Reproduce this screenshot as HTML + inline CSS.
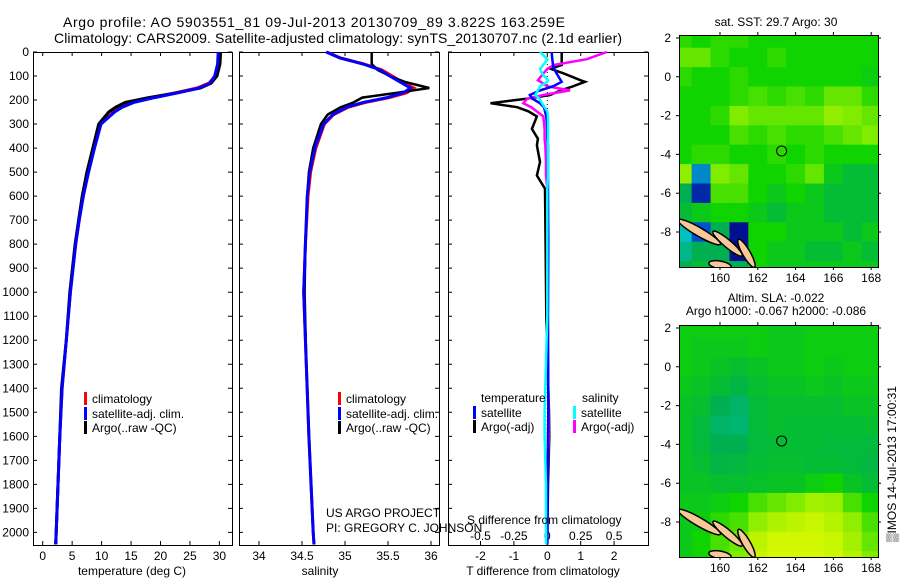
<!DOCTYPE html>
<html><head><meta charset="utf-8"><style>
html,body{margin:0;padding:0;background:#fff;width:900px;height:580px;overflow:hidden}
svg{display:block;font-family:"Liberation Sans",sans-serif}
text{fill:#000}
</style></head><body>
<svg id="fig" width="900" height="580" viewBox="0 0 900 580">
<text x="63" y="27" font-size="14" textLength="502">Argo profile: AO 5903551_81 09-Jul-2013 20130709_89 3.822S 163.259E</text>
<text x="54" y="43" font-size="14" textLength="568">Climatology: CARS2009. Satellite-adjusted climatology: synTS_20130707.nc (2.1d earlier)</text>
<g id="g1"></g>
<g id="g2"></g>
<g id="g3"></g>
<g id="m1"></g>
<g id="m2"></g>
<text x="776" y="26" font-size="12" text-anchor="middle">sat. SST: 29.7 Argo: 30</text>
<text x="776" y="302" font-size="12" text-anchor="middle">Altim. SLA: -0.022</text>
<text x="776" y="315" font-size="12" text-anchor="middle">Argo h1000: -0.067 h2000: -0.086</text>
<text transform="translate(896,464) rotate(-90)" font-size="12" text-anchor="middle">▒IMOS 14-Jul-2013 17:00:31</text>
</svg>
<script>
// ---- data ----
const depthsT=[0,50,100,130,150,170,190,210,230,250,300,400,500,600,700,800,1000,1200,1400,1600,1800,2000,2050];
const tempClim=[29.9,29.8,29.3,28.2,26.2,22.5,18.5,15.2,13.4,12.0,9.8,8.7,7.7,6.9,6.2,5.6,4.7,4.0,3.3,2.9,2.6,2.3,2.2];
const tempSat=[29.8,29.7,29.2,28.4,26.6,23.0,19.0,15.5,13.5,12.2,9.9,8.8,7.8,6.9,6.2,5.6,4.7,4.0,3.3,2.9,2.6,2.3,2.2];
const tempArgo=[30.2,30.1,29.6,28.6,26.8,22.8,18.0,14.0,12.4,11.2,9.5,8.5,7.5,6.7,6.1,5.5,4.6,4.0,3.2,2.9,2.6,2.3,2.2];
const depthsS=[0,25,50,75,100,125,150,170,190,210,230,260,300,400,500,600,800,1000,1300,1600,2000,2050];
const salClim=[34.79,34.95,35.22,35.43,35.55,35.66,35.80,35.72,35.52,35.24,35.04,34.87,34.76,34.66,34.60,34.57,34.54,34.52,34.55,34.58,34.63,34.64];
const salSat=[34.78,34.94,35.21,35.41,35.52,35.64,35.76,35.68,35.49,35.21,35.02,34.86,34.75,34.65,34.59,34.56,34.54,34.52,34.55,34.58,34.63,34.64];
const salArgo=[35.31,35.31,35.31,35.38,35.52,35.70,35.98,35.60,35.20,35.10,34.95,34.80,34.72,34.63,34.58,34.56,34.54,34.53,34.55,34.58,34.63,34.64];
const depthsD=[0,30,54,70,90,118,124,143,160,179,194,213,230,247,268,320,361,389,458,514,569,800,1100,1500,1600,1800,2050];
const dTSat=[0.13,0.15,0.17,0.2,0.28,0.4,0.43,0.17,-0.22,-0.52,-0.45,-0.22,-0.1,-0.07,-0.03,0,0,0.02,0.02,0.02,0.02,0.03,0.02,0.03,0.02,0.01,0];
const dTArgo=[0.43,0.43,0.43,0.1,0.5,1.0,1.13,0.77,0.4,0.08,-0.6,-1.7,-0.9,-0.57,-0.31,-0.46,-0.28,-0.31,-0.22,-0.31,-0.07,-0.05,-0.03,0.05,0.06,0.02,0];
const dSSat=[-0.055,0,-0.03,-0.055,-0.04,0.005,0.0,-0.055,-0.07,-0.09,-0.06,-0.04,-0.02,0,0.005,0.005,0.005,0.005,0.005,0.005,0,0,0,-0.02,-0.02,-0.01,-0.01];
const dSArgo=[0.445,0.295,0.05,0.0,-0.03,-0.07,-0.05,0.0,0.17,-0.03,-0.15,-0.18,-0.12,-0.08,-0.03,-0.02,-0.02,-0.015,-0.01,-0.01,0,0,0,0.01,0.01,0,0];
const depthTicks=[0,100,200,300,400,500,600,700,800,900,1000,1100,1200,1300,1400,1500,1600,1700,1800,1900,2000];
const tempTicks=[0,5,10,15,20,25,30];
const salTicks=[34,34.5,35,35.5,36];
const salTickLabels=["34","34.5","35","35.5","36"];
const dTTicks=[-2,-1,0,1,2];
const dSTicks=[-0.5,-0.25,0,0.25,0.5];
const dSTickLabels=["-0.5","-0.25","0","0.25","0.5"];
// map grids: rows lat 2..-10, cols lon 158..168
const mapLats=[2,1,0,-1,-2,-3,-4,-5,-6,-7,-8,-9,-10];
const mapLons=[158,159,160,161,162,163,164,165,166,167,168];
const sstGrid=[
[.5,.45,.5,.5,.45,.45,.45,.45,.45,.45,.45],
[.6,.6,.5,.45,.45,.5,.45,.45,.45,.45,.45],
[.5,.45,.45,.5,.45,.45,.45,.45,.45,.45,.42],
[.45,.45,.45,.5,.55,.5,.55,.5,.6,.6,.5],
[.45,.45,.5,.65,.6,.6,.6,.6,.7,.65,.6],
[.45,.45,.45,.55,.5,.55,.5,.5,.55,.6,.65],
[.45,.5,.5,.45,.45,.5,.45,.5,.45,.45,.45],
[.7,.15,.65,.6,.45,.45,.5,.6,.4,.35,.35],
[.3,.05,.55,.55,.45,.4,.45,.4,.35,.35,.35],
[.35,.4,.45,.45,.4,.35,.4,.4,.35,.35,.35],
[.2,.1,.3,.02,.45,.45,.4,.4,.4,.35,.4],
[.25,.3,.3,.02,.45,.4,.4,.35,.35,.4,.35],
[.3,.35,.35,.3,.45,.4,.4,.4,.4,.4,.4]];
const slaGrid=[
[.42,.42,.42,.42,.42,.4,.4,.42,.42,.42,.42],
[.42,.4,.4,.4,.42,.4,.4,.42,.42,.42,.42],
[.42,.4,.38,.36,.38,.4,.4,.42,.4,.42,.42],
[.4,.38,.35,.32,.36,.38,.38,.4,.38,.4,.4],
[.38,.36,.3,.28,.34,.36,.36,.36,.36,.38,.38],
[.38,.34,.28,.27,.34,.36,.35,.35,.35,.35,.36],
[.38,.34,.3,.3,.34,.35,.35,.35,.34,.34,.34],
[.38,.36,.32,.33,.35,.36,.36,.35,.35,.34,.33],
[.38,.38,.36,.36,.37,.38,.38,.42,.45,.38,.35],
[.4,.4,.42,.45,.55,.6,.65,.75,.72,.55,.45],
[.4,.42,.5,.55,.7,.78,.82,.85,.8,.7,.55],
[.4,.45,.55,.62,.82,.88,.88,.88,.85,.75,.6],
[.4,.45,.55,.65,.85,.9,.9,.9,.88,.8,.65]];
const argoLon=163.259, argoLat=-3.822;

const NS='http://www.w3.org/2000/svg';
function mk(parent,tag,attrs,txt){const e=document.createElementNS(NS,tag);for(const k in attrs)e.setAttribute(k,attrs[k]);if(txt!==undefined)e.textContent=txt;parent.appendChild(e);return e;}
const Y0=52,YB=545;
const yD=d=>Y0+d*0.2402;

function frame(g,x0,x1,name){
  const r=mk(g,'rect',{x:x0+.5,y:Y0+.5,width:x1-x0,height:YB-Y0,fill:'none',stroke:'#000','stroke-width':1});
  
  
  depthTicks.forEach(d=>{
    const t=mk(g,'path',{d:`M${x0} ${yD(d)}h4M${x1} ${yD(d)}h-4`,stroke:'#000','stroke-width':1});
    
    
  });
}
function xticks(g,vals,labels,fx,ly,top){
  vals.forEach((v,i)=>{
    const x=fx(v);
    const t=mk(g,'path',{d:`M${x} ${YB}v-4`+(top?`M${x} ${Y0}v4`:''),stroke:'#000','stroke-width':1});
    
    
    const l=mk(g,'text',{x:x,y:ly,'font-size':12,'text-anchor':'middle'},labels[i]);
    
    
  });
}
function line(g,xs,ds,fx,color,w,name,dash){
  const pts=xs.map((v,i)=>fx(v).toFixed(1)+','+yD(ds[i]).toFixed(1)).join(' ');
  const p=mk(g,'polyline',{points:pts,fill:'none',stroke:color,'stroke-width':w,'stroke-linejoin':'miter'});
  if(dash)p.setAttribute('stroke-dasharray',dash);
  
  
}
function legendItem(g,x,y,color,label){
  const r=mk(g,'rect',{x:x,y:y-6,width:3,height:13,fill:color});
  
  
  const t=mk(g,'text',{x:x+8,y:y+5,'font-size':12},label);
  
  
}

// Panel 1: temperature
const g1=document.getElementById('g1');
const fT=v=>42.7+v*5.89;
frame(g1,33,232,'temperature');
depthTicks.forEach(d=>{const l=mk(g1,'text',{x:29,y:yD(d)+4,'font-size':12,'text-anchor':'end'},String(d));
  });
xticks(g1,tempTicks,tempTicks.map(String),fT,560,true);
line(g1,tempClim,depthsT,fT,'#ff0000',3,'temperature-climatology-line');
line(g1,tempArgo,depthsT,fT,'#000',3,'temperature-argo-line');
line(g1,tempSat,depthsT,fT,'#0000ff',3,'temperature-satellite-line');
legendItem(g1,84,398,'#ff0000','climatology');
legendItem(g1,84,413,'#0000ff','satellite-adj. clim.');
legendItem(g1,84,427,'#000','Argo(..raw -QC)');
{const t=mk(g1,'text',{x:132,y:575,'font-size':12,'text-anchor':'middle'},'temperature (deg C)');}

// Panel 2: salinity
const g2=document.getElementById('g2');
const fS=v=>345+(v-35)*86;
frame(g2,239,439,'salinity');
xticks(g2,salTicks,salTickLabels,fS,560,true);
line(g2,salClim,depthsS,fS,'#ff0000',3,'salinity-climatology-line');
line(g2,salArgo,depthsS,fS,'#000',2.5,'salinity-argo-line');
line(g2,salSat,depthsS,fS,'#0000ff',3,'salinity-satellite-line');
legendItem(g2,338,398,'#ff0000','climatology');
legendItem(g2,338,413,'#0000ff','satellite-adj. clim.');
legendItem(g2,338,427,'#000','Argo(..raw -QC)');
{const t=mk(g2,'text',{x:326,y:517,'font-size':12},'US ARGO PROJECT');
 const u=mk(g2,'text',{x:326,y:532,'font-size':12},'PI: GREGORY C. JOHNSON');
 const a=mk(g2,'text',{x:320,y:575,'font-size':12,'text-anchor':'middle'},'salinity');}

// Panel 3: differences
const g3=document.getElementById('g3');
const fdT=v=>547.3+v*33.4;
const fdS=v=>547.3+v*133.6;
frame(g3,448,648,'difference');
xticks(g3,dTTicks,dTTicks.map(String),fdT,560,true);
dSTicks.forEach((v,i)=>{const l=mk(g3,'text',{x:fdS(v),y:540,'font-size':12,'text-anchor':'middle'},dSTickLabels[i]);
  });
{const z=mk(g3,'path',{d:`M${fdT(0)} ${Y0}V${YB}`,stroke:'#000','stroke-width':1,'stroke-dasharray':'1,3'});}
line(g3,dTArgo,depthsD,fdT,'#000',2.5,'t-diff-argo-line');
line(g3,dSArgo,depthsD,fdS,'#ff00ff',2.5,'s-diff-argo-line');
line(g3,dTSat,depthsD,fdT,'#0000ff',2.5,'t-diff-satellite-line');
line(g3,dSSat,depthsD,fdS,'#00ffff',2.5,'s-diff-satellite-line');
{const a=mk(g3,'text',{x:481,y:402,'font-size':12},'temperature');
 const b=mk(g3,'text',{x:582,y:402,'font-size':12},'salinity');}
legendItem(g3,473,412,'#0000ff','satellite');
legendItem(g3,473,426,'#000','Argo(-adj)');
legendItem(g3,573,412,'#00ffff','satellite');
legendItem(g3,573,426,'#ff00ff','Argo(-adj)');
{const t=mk(g3,'text',{x:467,y:524,'font-size':12},'S difference from climatology');
 const a=mk(g3,'text',{x:543,y:575,'font-size':12,'text-anchor':'middle'},'T difference from climatology');}

// Maps
const stops=[[0,[0,0,128]],[0.1,[0,80,208]],[0.2,[0,192,192]],[0.3,[0,176,80]],[0.45,[16,212,0]],[0.65,[128,236,0]],[0.9,[216,248,0]],[1,[240,250,40]]];
function cmap(v){for(let i=1;i<stops.length;i++){if(v<=stops[i][0]){const a=stops[i-1],b=stops[i],t=(v-a[0])/(b[0]-a[0]);
  return 'rgb('+a[1].map((c,k)=>Math.round(c+(b[1][k]-c)*t)).join(',')+')';}}return 'rgb(240,250,40)';}
function drawMap(id,grid,top,bottom,name){
  const g=document.getElementById(id);
  const L=679,R=878;
  const fx=lon=>720+(lon-160)*18.9;
  const fy=lat=>top+3+(2-lat)*19.4;
  const cid='clip'+id;
  const cp=mk(g,'clipPath',{id:cid});mk(cp,'rect',{x:L,y:top,width:R-L,height:bottom-top});
  const cg=mk(g,'g',{'clip-path':`url(#${cid})`});
  mapLats.forEach((lat,i)=>mapLons.forEach((lon,j)=>{
    const r=mk(cg,'rect',{x:fx(lon-0.5),y:fy(lat+0.5),width:18.9+0.5,height:19.4+0.5,fill:cmap(grid[i][j])});
    
    
  }));
  [[158.9,-8.0,1.3,0.22,30],[160.4,-8.6,1.0,0.2,40],[161.4,-9.1,0.85,0.2,60],[160.0,-9.7,0.6,0.2,10]].forEach(s=>{
    const e=mk(cg,'ellipse',{cx:fx(s[0]),cy:fy(s[1]),rx:s[2]*18.9,ry:s[3]*19.4,fill:'#f8c898',stroke:'#000','stroke-width':1.5,transform:`rotate(${s[4]} ${fx(s[0])} ${fy(s[1])})`});
    
    
  });
  const c=mk(g,'circle',{cx:fx(argoLon),cy:fy(argoLat),r:5,fill:'none',stroke:'#000','stroke-width':1});
  
  
  const f=mk(g,'rect',{x:L+.5,y:top+.5,width:R-L,height:bottom-top,fill:'none',stroke:'#000','stroke-width':1});
  
  
  [2,0,-2,-4,-6,-8].forEach(lat=>{
    const t=mk(g,'path',{d:`M${L-3} ${fy(lat)}h3M${R} ${fy(lat)}h3`,stroke:'#000'});
    
    const l=mk(g,'text',{x:L-8,y:fy(lat)+4,'font-size':12,'text-anchor':'end'},String(lat));
    
  });
  [160,162,164,166,168].forEach(lon=>{
    const t=mk(g,'path',{d:`M${fx(lon)} ${top}v-3M${fx(lon)} ${bottom}v3`,stroke:'#000'});
    
    const l=mk(g,'text',{x:fx(lon),y:bottom+15,'font-size':12,'text-anchor':'middle'},String(lon));
    
  });
}
drawMap('m1',sstGrid,35,267,'sst-map');
drawMap('m2',slaGrid,325,557,'sla-map');
</script>
</body></html>
